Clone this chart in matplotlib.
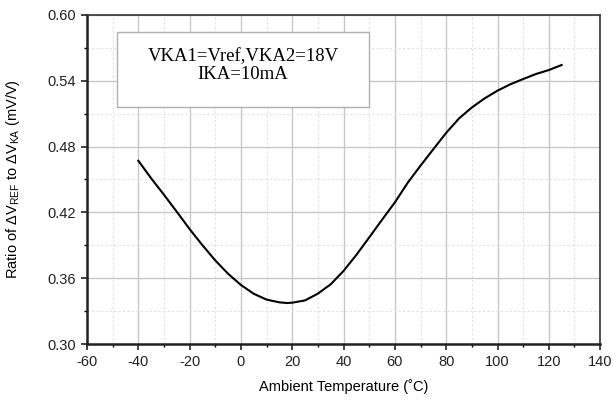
import numpy as np
import matplotlib.pyplot as plt
from matplotlib.patches import Rectangle
from matplotlib.ticker import MultipleLocator

plt.rcParams['font.family'] = ['Liberation Sans', 'DejaVu Sans']
plt.rcParams['mathtext.fontset'] = 'custom'
plt.rcParams['mathtext.rm'] = 'Liberation Sans'
plt.rcParams['axes.unicode_minus'] = False

# ratio vs ambient temperature
temp = [-40, -35, -30, -25, -20, -15, -10, -5, 0, 5, 10, 15, 18, 20, 25, 30, 35,
        40, 45, 50, 55, 60, 65, 70, 75, 80, 85, 90, 95, 100, 105, 110, 115, 120, 125]
ratio = [0.467, 0.451, 0.436, 0.4205, 0.4047, 0.390, 0.3762, 0.364, 0.3538, 0.3458,
         0.3405, 0.3380, 0.3374, 0.3377, 0.3398, 0.3460, 0.3545, 0.3667, 0.3813,
         0.3972, 0.4133, 0.4291, 0.4470, 0.4626, 0.4776, 0.4925, 0.5056, 0.5156,
         0.5239, 0.5309, 0.5367, 0.5415, 0.5461, 0.5497, 0.5543]

xticks = [-60, -40, -20, 0, 20, 40, 60, 80, 100, 120, 140]
yticks = [0.30, 0.36, 0.42, 0.48, 0.54, 0.60]
note = "VKA1=Vref,VKA2=18V\nIKA=10mA"

fig = plt.figure(figsize=(6.13, 4.01), dpi=100)
ax = fig.add_axes([0.142, 0.142, 0.837, 0.821])

ax.plot(temp, ratio, color='black', lw=1.5, zorder=3)

ax.set_xlim(-60, 140)
ax.set_ylim(0.30, 0.60)
ax.set_xticks(xticks)
ax.set_yticks(yticks)
ax.set_yticklabels([f"{v:.2f}" for v in yticks])
ax.xaxis.set_minor_locator(MultipleLocator(10))
ax.yaxis.set_minor_locator(MultipleLocator(0.03))

ax.grid(which='major', color='#c8c8c8', lw=1.0)
ax.grid(which='minor', color='#e0e0e0', lw=0.8, ls=(0, (2, 2)))
ax.set_axisbelow(True)

ax.tick_params(which='major', direction='out', length=4, width=1.2,
               labelsize=10.5, colors='#222222', pad=4)
ax.tick_params(which='minor', direction='out', length=2.5, width=1.0)

for side in ['left', 'bottom']:
    ax.spines[side].set_linewidth(1.8)
    ax.spines[side].set_color('#222222')
for side in ['top', 'right']:
    ax.spines[side].set_linewidth(1.2)
    ax.spines[side].set_color('#333333')

ax.set_xlabel("Ambient Temperature (˚C)", fontsize=10.5, labelpad=7)
ax.set_ylabel(r"Ratio of ΔV$_{\mathrm{REF}}$ to ΔV$_{\mathrm{KA}}$ (mV/V)",
              fontsize=10.5, labelpad=18)

# condition box
ax.add_patch(Rectangle((-48.3, 0.516), 98.3, 0.068, fc='white', ec='#b0b0b0',
                       lw=1.0, zorder=4))
ax.text(0.8, 0.5535, note, ha='center', va='center', fontsize=13.5,
        family=['Liberation Serif'], linespacing=1.05, color='black', zorder=5)

fig.savefig('out.png', dpi=100)
